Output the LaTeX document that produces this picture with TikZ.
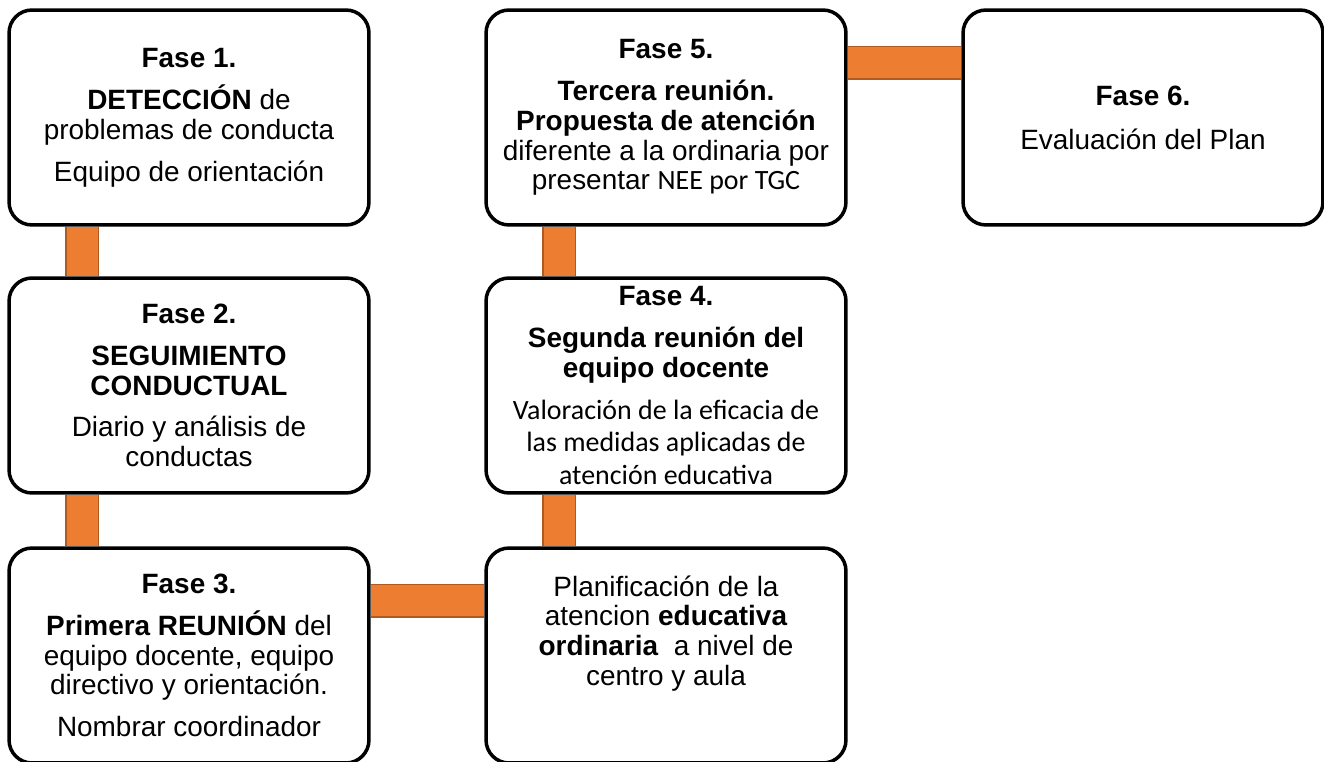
\documentclass[tikz,border=0pt]{standalone}
\usepackage{fontspec}
\setmainfont{Liberation Sans}
\newfontfamily\calibri{Carlito}
\usetikzlibrary{backgrounds}

\definecolor{barfill}{HTML}{ED7D31}
\definecolor{barline}{HTML}{AE5A21}

\begin{document}
\begin{tikzpicture}[x=0.02cm,y=-0.02cm]

      \useasboundingbox (0,0) rectangle (1324,761);

      \begin{scope}[every node/.style={draw=black,line width=0.07cm,rounded corners=0.46cm,fill=white,
          minimum width=7.2cm,minimum height=4.3cm,align=center,font=\fontsize{15.9}{17}\selectfont}]
        \node (f1)   at (189,117.5) {\textbf{Fase 1.}\\[0.24cm]\textbf{DETECCIÓN} de\\problemas de conducta\\[0.24cm]Equipo de orientación};
        \node (f2)   at (189,385.5) {\textbf{Fase 2.}\\[0.24cm]\textbf{SEGUIMIENTO}\\\textbf{CONDUCTUAL}\\[0.24cm]Diario y análisis de\\conductas};
        \node (f3)   at (189,655.5) {\textbf{Fase 3.}\\[0.24cm]\textbf{Primera REUNIÓN} del\\equipo docente, equipo\\directivo y orientación.\\[0.24cm]Nombrar coordinador};
        \node (plan) at (666,655.5) {Planificación de la\\atencion \textbf{educativa}\\\textbf{ordinaria}\ \ a nivel de\\centro y aula\\[0.4cm]\mbox{}};
        \node (f4)   at (666,385.5) {\textbf{Fase 4.}\\[0.24cm]\textbf{Segunda reunión del}\\\textbf{equipo docente}\\[0.24cm]{\calibri Valoración de la eficacia de}\\[0.05cm]{\calibri las medidas aplicadas de}\\[0.05cm]{\calibri atención educativa}};
        \node (f5)   at (666,117.5) {\textbf{Fase 5.}\\[0.24cm]\textbf{Tercera reunión.}\\\textbf{Propuesta de atención}\\diferente a la ordinaria por\\presentar {\calibri NEE por TGC}};
        \node (f6)   at (1143,117.5) {\textbf{Fase 6.}\\[0.28cm]Evaluación del Plan};
      \end{scope}

      \begin{scope}[on background layer]

        \begin{scope}[every edge/.style={draw=barline,line width=0.03cm,double=barfill,double distance=0.62cm}]
          \path ([xshift=1.5cm]f1.south west)  edge ([xshift=1.5cm]f2.north west);
          \path ([xshift=1.5cm]f2.south west)  edge ([xshift=1.5cm]f3.north west);
          \path ([yshift=-1.09cm]f3.north east) edge ([yshift=-1.09cm]plan.north west);
          \path ([xshift=1.5cm]plan.north west) edge ([xshift=1.5cm]f4.south west);
          \path ([xshift=1.5cm]f4.north west)  edge ([xshift=1.5cm]f5.south west);
          \path ([yshift=-1.09cm]f5.north east) edge ([yshift=-1.09cm]f6.north west);
        \end{scope}
      \end{scope}

    \end{tikzpicture}
\end{document}
